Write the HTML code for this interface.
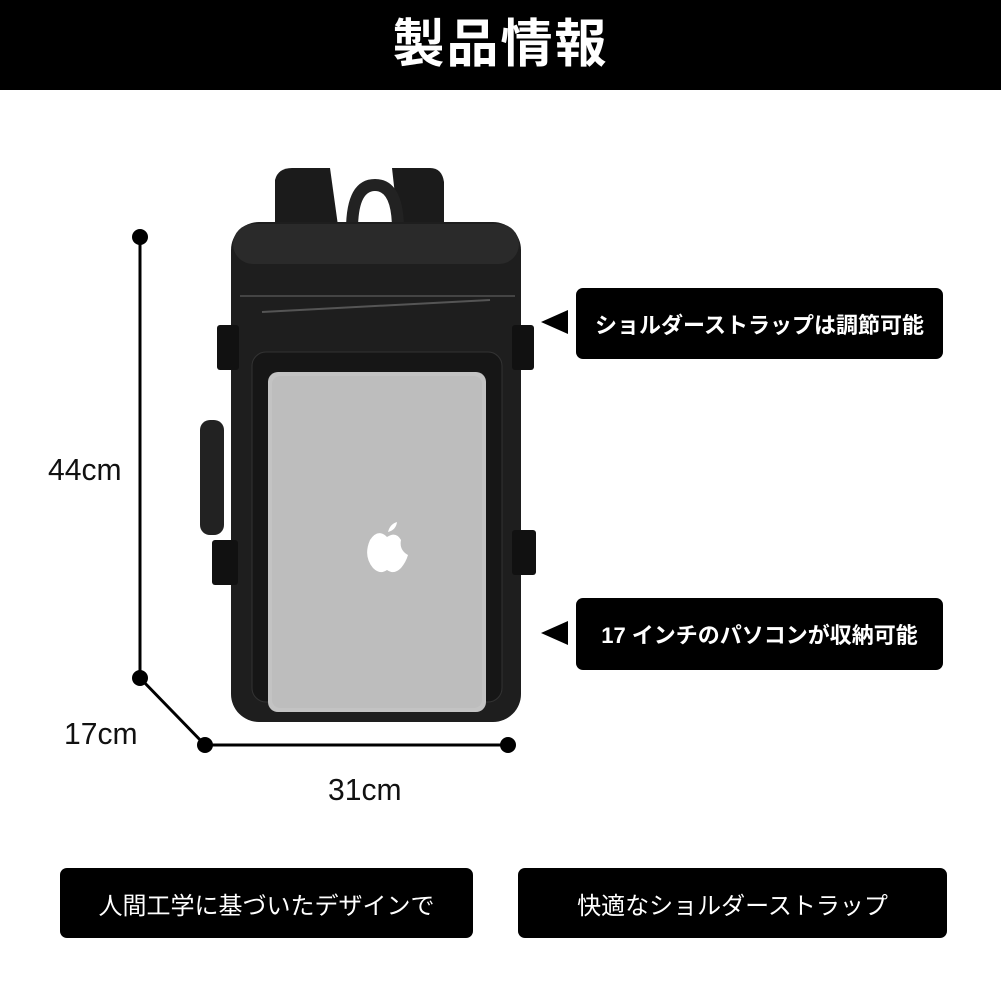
<!DOCTYPE html>
<html><head><meta charset="utf-8"><style>
html,body{margin:0;padding:0;background:#fff;}
body{width:1001px;height:1001px;position:relative;overflow:hidden;font-family:"Liberation Sans","Noto Sans CJK JP",sans-serif;}
.hdr{position:absolute;left:0;top:0;width:1001px;height:90px;background:#000;color:#fff;text-align:center;font-size:52px;font-weight:bold;line-height:90px;letter-spacing:2px;}
.box{position:absolute;background:#000;color:#fff;border-radius:7px;display:flex;align-items:center;justify-content:center;font-weight:bold;}
.lbl{position:absolute;font-family:"Liberation Sans Narrow","Liberation Sans","Noto Sans CJK JP",sans-serif;font-size:31px;color:#111;transform:scaleX(0.97);transform-origin:left top;}
svg{position:absolute;left:0;top:0;}
</style></head><body>
<div class="hdr">製品情報</div>
<svg width="1001" height="1001">
 <path d="M275 250 L275 180 Q278 168 292 168 L330 168 L340 240 Z" fill="#1b1b1b"/>
 <path d="M400 240 L392 168 L430 168 Q442 168 444 182 L444 250 Z" fill="#1b1b1b"/>
 <path d="M352 230 Q352 185 375 185 Q398 185 398 230" fill="none" stroke="#222" stroke-width="12"/>
 <rect x="231" y="222" width="290" height="500" rx="28" fill="#1e1e1e"/>
 <rect x="233" y="224" width="286" height="40" rx="20" fill="#2a2a2a"/>
 <line x1="240" y1="296" x2="515" y2="296" stroke="#444" stroke-width="2"/>
 <line x1="262" y1="312" x2="490" y2="300" stroke="#555" stroke-width="2"/>
 <rect x="252" y="352" width="250" height="350" rx="14" fill="#161616" stroke="#333"/>
 <rect x="217" y="325" width="22" height="45" rx="3" fill="#111"/>
 <rect x="512" y="325" width="22" height="45" rx="3" fill="#111"/>
 <rect x="212" y="540" width="26" height="45" rx="3" fill="#111"/>
 <rect x="512" y="530" width="24" height="45" rx="3" fill="#111"/>
 <rect x="200" y="420" width="24" height="115" rx="10" fill="#222"/>
 <rect x="268" y="372" width="218" height="340" rx="10" fill="#c3c3c3"/>
 <rect x="272" y="376" width="210" height="332" rx="8" fill="#bdbdbd"/>
 <path d="M387 537 Q378 528 370 540 Q363 556 373 568 Q380 575 387 570 Q394 575 401 568 Q406 562 408 555 Q399 550 401 540 Q396 531 387 537 Z" fill="#fff"/>
 <path d="M388 532 Q390 524 397 522 Q396 530 388 532 Z" fill="#fff"/>
 <g stroke="#000" stroke-width="3" fill="none">
  <line x1="140" y1="237" x2="140" y2="678"/>
  <line x1="140" y1="678" x2="205" y2="745"/>
  <line x1="205" y1="745" x2="508" y2="745"/>
 </g>
 <g fill="#000">
  <circle cx="140" cy="237" r="8"/><circle cx="140" cy="678" r="8"/>
  <circle cx="205" cy="745" r="8"/><circle cx="508" cy="745" r="8"/>
  <polygon points="541,322 568,310 568,334"/>
  <polygon points="541,633 568,621 568,645"/>
 </g>
</svg>
<div class="lbl" style="left:48px;top:452px;">44cm</div>
<div class="lbl" style="left:64px;top:716px;">17cm</div>
<div class="lbl" style="left:328px;top:772px;">31cm</div>
<div class="box" style="left:576px;top:288px;width:367px;height:71px;font-size:22px;">ショルダーストラップは調節可能</div>
<div class="box" style="left:576px;top:598px;width:367px;height:72px;font-size:22px;">17 インチのパソコンが収納可能</div>
<div class="box" style="left:60px;top:868px;width:413px;height:70px;font-size:24px;font-weight:normal;">人間工学に基づいたデザインで</div>
<div class="box" style="left:518px;top:868px;width:429px;height:70px;font-size:24px;font-weight:normal;">快適なショルダーストラップ</div>
</body></html>
